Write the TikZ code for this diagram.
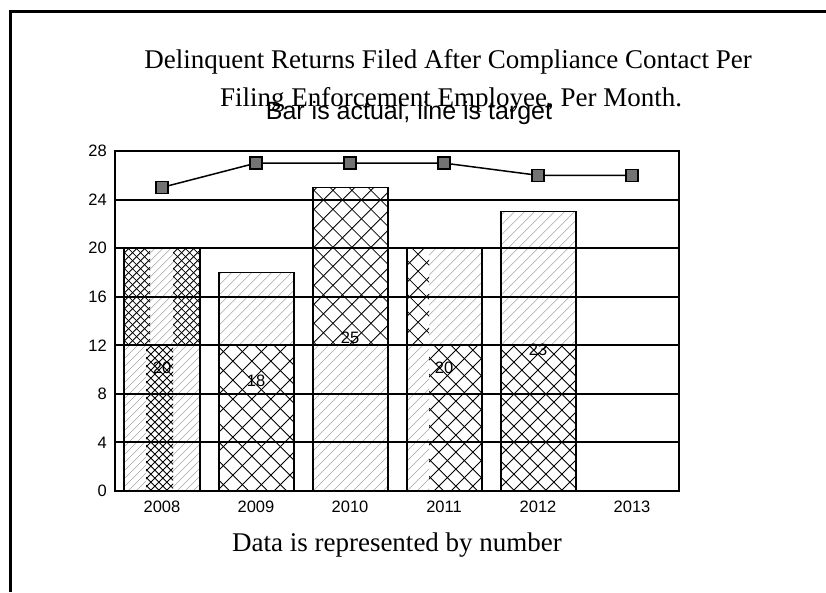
\documentclass[tikz,border=0pt]{standalone}
\usepackage{fontspec}
\setmainfont{Liberation Serif}
\newfontfamily\arialfont{Liberation Sans}

% single diagonal hatching "/" inside a rectangle: x1,y1,x2,y2,spacing,style
\newcommand\diaghatch[6]{%
  \begin{scope}
    \clip (#1,#2) rectangle (#3,#4);
    \foreach \i in {0,...,70}{\draw[#6] (#1-420+\i*#5,#4) -- ++(420,-420);}
  \end{scope}}
% diamond cross hatching inside a rectangle: x1,y1,x2,y2,spacing,style
\newcommand\crosshatchbox[6]{%
  \begin{scope}
    \clip (#1,#2) rectangle (#3,#4);
    \foreach \i in {0,...,70}{%
      \draw[#6] (#1-420+\i*#5,#4) -- ++(420,-420);
      \draw[#6] (#1-420+\i*#5,#2) -- ++(420,420);}
  \end{scope}}

\begin{document}
\begin{tikzpicture}[x=1pt,y=-1pt,
  titletext/.style={font=\fontsize{27}{32}\selectfont, inner sep=0pt},
  subtext/.style={font=\arialfont\fontsize{25}{28}\selectfont, inner sep=0pt},
  ticklabel/.style={font=\arialfont\fontsize{16.5}{18}\selectfont, inner sep=0pt},
  barline/.style={line width=1.5pt},
  gridline/.style={line width=2pt},
  thinhatch/.style={line width=0.5pt, gray!70},
  xhatch/.style={line width=0.8pt, black},
  marker/.style={rectangle, draw=black, line width=1.3pt, fill=black!55,
    minimum size=12pt, inner sep=0pt},
  targetline/.style={line width=1.5pt}]

\useasboundingbox (0,0) rectangle (826,592);

% page frame (left and top edges)
\draw[line width=3pt] (10.5,592) -- (10.5,11) -- (826,11);

% ---- bars: white ground, hatching, outline ----
% 2008 (value 20)
\fill[white] (124,248.1) rectangle (200,491);
\crosshatchbox{124}{248.1}{150}{345.3}{8}{xhatch}
\diaghatch{150}{248.1}{173}{345.3}{8}{thinhatch}
\crosshatchbox{173}{248.1}{200}{345.3}{8}{xhatch}
\diaghatch{124}{345.3}{146}{491}{8}{thinhatch}
\crosshatchbox{146}{345.3}{173}{491}{8}{xhatch}
\diaghatch{173}{345.3}{200}{491}{8}{thinhatch}
\draw[barline] (124,248.1) rectangle (200,491);

% 2009 (value 18)
\fill[white] (219,272.4) rectangle (294,491);
\diaghatch{219}{272.4}{294}{345.3}{10}{thinhatch}
\crosshatchbox{219}{345.3}{294}{491}{19}{xhatch}
\draw[barline] (219,272.4) rectangle (294,491);

% 2010 (value 25)
\fill[white] (313,187.4) rectangle (388,491);
\crosshatchbox{313}{187.4}{388}{345.3}{19}{xhatch}
\diaghatch{313}{345.3}{388}{491}{10}{thinhatch}
\draw[barline] (313,187.4) rectangle (388,491);

% 2011 (value 20)
\fill[white] (407,248.1) rectangle (482,491);
\crosshatchbox{407}{248.1}{429}{345.3}{17}{xhatch}
\diaghatch{429}{248.1}{482}{345.3}{10}{thinhatch}
\diaghatch{407}{345.3}{429}{491}{10}{thinhatch}
\crosshatchbox{429}{345.3}{482}{491}{17}{xhatch}
\draw[barline] (407,248.1) rectangle (482,491);

% 2012 (value 23)
\fill[white] (501,211.7) rectangle (576,491);
\diaghatch{501}{211.7}{576}{345.3}{10}{thinhatch}
\crosshatchbox{501}{345.3}{576}{491}{16}{xhatch}
\draw[barline] (501,211.7) rectangle (576,491);

% ---- grid lines and plot frame ----
\foreach \gy in {442.4,393.9,345.3,296.7,248.1,199.6}
  \draw[gridline] (115,\gy) -- (679,\gy);
\draw[barline] (115,151) rectangle (679,491);

% ---- axis labels ----
\foreach \v/\gy in {0/491,4/442.4,8/393.9,12/345.3,16/296.7,20/248.1,24/199.6,28/151}
  \node[ticklabel, anchor=east] (y\v) at (107,\gy) {\v};
\foreach \yr/\gx in {2008/162,2009/256,2010/350,2011/444,2012/538,2013/632}
  \node[ticklabel] (x\yr) at (\gx,507) {\yr};

% ---- bar value labels ----
\node[ticklabel] (v2008) at (162,368) {20};
\node[ticklabel] (v2009) at (256,381) {18};
\node[ticklabel] (v2010) at (350,338) {25};
\node[ticklabel] (v2011) at (444,368) {20};
\node[ticklabel] (v2012) at (538,350) {23};

% ---- target line ----
\node[marker] (m1) at (162,187.4) {};
\node[marker] (m2) at (256,163.1) {};
\node[marker] (m3) at (350,163.1) {};
\node[marker] (m4) at (444,163.1) {};
\node[marker] (m5) at (538,175.3) {};
\node[marker] (m6) at (632,175.3) {};
\draw[targetline] (m1) -- (m2) -- (m3) -- (m4) -- (m5) -- (m6);

% ---- titles ----
\node[titletext] (t1) at (448,62) {Delinquent Returns Filed After Compliance Contact Per};
\node[titletext] (t2) at (451,100) {Filing Enforcement Employee, Per Month.};
\node[subtext] (sub) at (409,113) {Bar is actual, line is target};
\node[titletext] (foot) at (397,545) {Data is represented by number};
\end{tikzpicture}
\end{document}
